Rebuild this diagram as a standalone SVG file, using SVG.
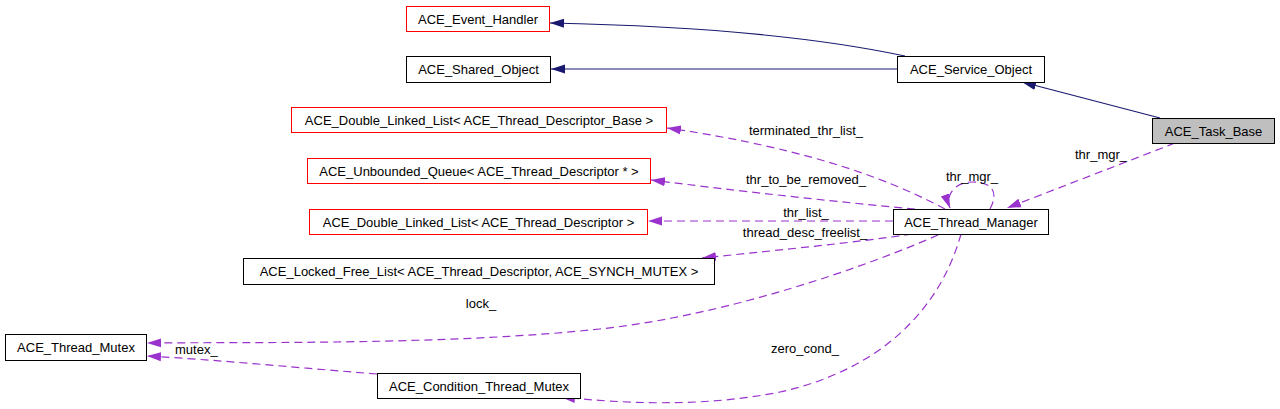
<svg xmlns="http://www.w3.org/2000/svg" width="1280" height="409" viewBox="0 0 1280 409">
<style>
text{font-family:"Liberation Sans",Arial,sans-serif;font-size:13px;fill:#000}
.n{fill:#fff;stroke:#000;stroke-width:1}
.r{fill:#fff;stroke:#ff0000;stroke-width:1}
.g{fill:#bfbfbf;stroke:#000;stroke-width:1}
.c{text-anchor:middle}
.inh{fill:none;stroke:#191970;stroke-width:1.2;marker-end:url(#an)}
.use{fill:none;stroke:#9a32cd;stroke-width:1.2;stroke-dasharray:8,5;marker-end:url(#ap)}
</style>
<defs>
<marker id="an" markerWidth="15" markerHeight="10" refX="14" refY="5" orient="auto" markerUnits="userSpaceOnUse"><path d="M0,0.5 L14,5 L0,9.5 z" fill="#191970"/></marker>
<marker id="ap" markerWidth="15" markerHeight="10" refX="14" refY="5" orient="auto" markerUnits="userSpaceOnUse"><path d="M0,0.5 L14,5 L0,9.5 z" fill="#9a32cd"/></marker>
</defs>
<g id="edges">
<path class="inh" d="M905,56 C820,38 700,26 550,23"/>
<path class="inh" d="M897,69 L551,69"/>
<path class="inh" d="M1160,118 L1022,82"/>
<path class="use" d="M945,209 C900,185 820,150 667,128"/>
<path class="use" d="M915,209 C870,205 770,195 651,180"/>
<path class="use" d="M893,221 L648,221"/>
<path class="use" d="M912,234 C860,242 780,250 702,258"/>
<path class="use" d="M938,235 C870,265 730,315 600,329 C450,345 260,342 147,343"/>
<path class="use" d="M377,374 C300,368 220,360 147,356"/>
<path class="use" d="M961,234 C940,310 880,370 780,392 C700,408 620,403 561,397"/>
<path class="use" d="M1175,143 L1007,208"/>
<path class="use" d="M990,209 C1000,190 990,182 972,182 C955,182 945,195 950,208"/>
<text class="c" x="806" y="135">terminated_thr_list_</text>
<text class="c" x="806" y="184">thr_to_be_removed_</text>
<text class="c" x="806" y="217">thr_list_</text>
<text class="c" x="805" y="237">thread_desc_freelist_</text>
<text class="c" x="481" y="308">lock_</text>
<text x="175" y="354">mutex_</text>
<text class="c" x="805" y="353">zero_cond_</text>
<text class="c" x="972" y="181">thr_mgr_</text>
<text class="c" x="1101" y="159">thr_mgr_</text>
</g>
<g id="n_event_handler"><rect class="r" x="406.5" y="6.5" width="143" height="25"/><text class="c" x="478" y="23.5">ACE_Event_Handler</text></g>
<g id="n_shared_object"><rect class="n" x="406.5" y="56.5" width="144" height="26"/><text class="c" x="478.5" y="74">ACE_Shared_Object</text></g>
<g id="n_dll_base"><rect class="r" x="291.5" y="107.5" width="375" height="25"/><text class="c" x="479" y="124.5">ACE_Double_Linked_List&lt; ACE_Thread_Descriptor_Base &gt;</text></g>
<g id="n_service_object"><rect class="n" x="897.5" y="56.5" width="147" height="26"/><text class="c" x="971" y="74">ACE_Service_Object</text></g>
<g id="n_task_base"><rect class="g" x="1152.5" y="118.5" width="122" height="25"/><text class="c" x="1213.5" y="135.5">ACE_Task_Base</text></g>
<g id="n_unbounded_queue"><rect class="r" x="307.5" y="158.5" width="343" height="25"/><text class="c" x="479" y="175.5">ACE_Unbounded_Queue&lt; ACE_Thread_Descriptor * &gt;</text></g>
<g id="n_dll_td"><rect class="r" x="309.5" y="209.5" width="338" height="25"/><text class="c" x="478.5" y="226.5">ACE_Double_Linked_List&lt; ACE_Thread_Descriptor &gt;</text></g>
<g id="n_thread_manager"><rect class="n" x="893.5" y="209.5" width="155" height="25"/><text class="c" x="971" y="226.5">ACE_Thread_Manager</text></g>
<g id="n_locked_free_list"><rect class="n" x="243.5" y="258.5" width="471" height="26"/><text class="c" x="479" y="276">ACE_Locked_Free_List&lt; ACE_Thread_Descriptor, ACE_SYNCH_MUTEX &gt;</text></g>
<g id="n_thread_mutex"><rect class="n" x="5.5" y="334.5" width="141" height="26"/><text class="c" x="76" y="352">ACE_Thread_Mutex</text></g>
<g id="n_condition_thread_mutex"><rect class="n" x="377.5" y="373.5" width="203" height="25"/><text class="c" x="479" y="390.5">ACE_Condition_Thread_Mutex</text></g>
</svg>
